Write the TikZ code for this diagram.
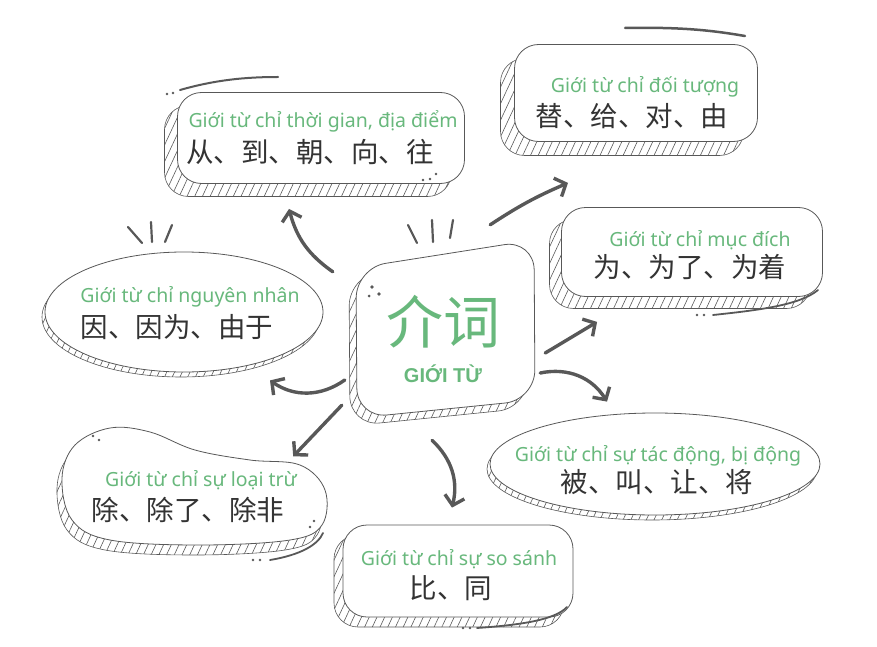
\documentclass[tikz,border=0pt]{standalone}
\usepackage{fontspec}
\setmainfont{Noto Sans}
\newfontfamily\zhfont{Noto Sans CJK SC}
\newfontfamily\headfont{Liberation Sans}
\usetikzlibrary{arrows.meta, shadows, patterns.meta, shapes.geometric}

\definecolor{leaf}{RGB}{104,184,124}
\definecolor{ink}{RGB}{88,88,88}

\tikzset{
  card/.style={draw=ink, line width=0.8pt, fill=white, rounded corners=24pt, inner sep=0pt},
  bubble/.style={ellipse, draw=ink, line width=0.8pt, fill=white, inner sep=0pt},
  hatched/.style 2 args={general shadow={draw=ink, line width=0.6pt,
      pattern={Lines[angle=65, distance=7pt, line width=0.6pt]}, pattern color=ink,
      shadow xshift=#1, shadow yshift=#2}},
  vi/.style={text=leaf, font=\fontsize{19.5}{22}\selectfont},
  zh/.style={text=black!80, font=\zhfont\fontsize{27.5}{31}\selectfont},
  arr/.style={draw=ink, line width=3.4pt, line cap=round,
      -{Straight Barb[length=9pt, width=20pt]}},
  tick/.style={draw=ink, line width=2.2pt, line cap=round},
  speck/.style={fill=ink}
}

\begin{document}
\begin{tikzpicture}[x=1pt,y=-1pt]
\useasboundingbox (0,0) rectangle (877,647);
% Centre card
\path[draw=ink, line width=0.6pt, rounded corners=30pt,
  pattern={Lines[angle=65, distance=7pt, line width=0.6pt]}, pattern color=ink,
  shift={(-7,8)}] (356,268) -- (534,240) -- (535,400) -- (357,418) -- cycle;
\draw[ink, line width=0.8pt, fill=white, rounded corners=30pt]
  (356,268) -- (534,240) -- (535,400) -- (357,418) -- cycle;
\node[minimum width=178pt, minimum height=160pt] (ctr) at (446,333) {};
\node[text=leaf, font=\zhfont\fontsize{57}{60}\selectfont] (ctrzh) at (443,322) {介词};
\node[text=leaf, font=\headfont\bfseries\fontsize{20}{23}\selectfont] (ctrvi) at (443,374) {GIỚI TỪ};
\fill[speck] (372,287) circle (1.8) (379,294) circle (1.8) (369,296) circle (1.5);
% Ticks over centre card
\draw[tick] (408,225) -- (417,243) (432,220) -- (433,242) (453,220) -- (450,238);

% Time and place
\node[card, hatched={-13pt}{-13pt}, minimum width=287pt, minimum height=91pt] (tp) at (321,138) {};
\node[vi] (tpvi) at (323,121) {Giới từ chỉ thời gian, địa điểm};
\node[zh] (tpzh) at (310,152) {从、到、朝、向、往};
\draw[ink, line width=2pt, line cap=round] (180,90) .. controls (215,80) and (245,77) .. (278,77);
\fill[speck] (167,94) circle (1.4) (173,93) circle (1.4);
\fill[speck] (423,180) circle (1.4) (430,179) circle (1.4) (436,174) circle (1.3);

% Object
\node[card, hatched={-14pt}{-14pt}, minimum width=243pt, minimum height=97pt] (obj) at (636,93) {};
\node[vi] (objvi) at (645,87) {Giới từ chỉ đối tượng};
\node[zh] (objzh) at (632,116) {替、给、对、由};
\draw[ink, line width=2.5pt, line cap=round] (625,28) .. controls (680,27) and (710,30) .. (745,36);

% Purpose
\node[card, hatched={-12pt}{-12pt}, minimum width=261pt, minimum height=89pt] (purp) at (692,252) {};
\node[vi] (purpvi) at (700,240) {Giới từ chỉ mục đích};
\node[zh] (purpzh) at (690,267) {为、为了、为着};
\draw[ink, line width=1.8pt, line cap=round] (713,315) .. controls (760,310) and (800,305) .. (818,290);
\fill[speck] (697,315) circle (1.4) (704,315) circle (1.4);

% Cause
\node[bubble, hatched={-3pt}{-5pt}, minimum width=278pt, minimum height=120pt] (cause) at (184,312) {};
\node[vi] (causevi) at (190,297) {Giới từ chỉ nguyên nhân};
\node[zh] (causezh) at (177,327) {因、因为、由于};
\draw[tick] (128,227) -- (142,243) (151,222) -- (152,242) (172,225) -- (165,242);

% Passive
\node[bubble, hatched={-3pt}{-5pt}, minimum width=330pt, minimum height=102pt] (pass) at (655,464) {};
\node[vi] (passvi) at (658,456) {Giới từ chỉ sự tác động, bị động};
\node[zh] (passzh) at (657,482) {被、叫、让、将};

% Exclusion
\path[draw=ink, line width=0.6pt, pattern={Lines[angle=65, distance=7pt, line width=0.6pt]},
  pattern color=ink, shift={(-5,10)}]
  plot[smooth cycle, tension=0.6] coordinates {(62,478) (75,445) (110,428) (150,432) (195,450)
  (250,460) (300,465) (325,490) (322,525) (290,540) (200,545) (110,540) (72,520)};
\draw[ink, line width=0.8pt, fill=white]
  plot[smooth cycle, tension=0.6] coordinates {(62,478) (75,445) (110,428) (150,432) (195,450)
  (250,460) (300,465) (325,490) (322,525) (290,540) (200,545) (110,540) (72,520)};
\node[minimum width=260pt, minimum height=115pt] (excl) at (195,487) {};
\node[vi] (exclvi) at (201,480) {Giới từ chỉ sự loại trừ};
\node[zh] (exclzh) at (188,510) {除、除了、除非};
\draw[ink, line width=1.8pt, line cap=round] (270,560) .. controls (300,555) and (318,545) .. (323,533);
\fill[speck] (93,436) circle (1.4) (99,440) circle (1.4) (253,560) circle (1.4) (260,560) circle (1.4);
\fill[speck] (310,527) circle (1.4) (314,521) circle (1.4);

% Comparison
\node[card, hatched={-9pt}{-10pt}, minimum width=230pt, minimum height=92pt] (cmp) at (458,571) {};
\node[vi] (cmpvi) at (459,559) {Giới từ chỉ sự so sánh};
\node[zh] (cmpzh) at (451,588) {比、同};
\draw[ink, line width=1.8pt, line cap=round] (477,628) .. controls (520,625) and (555,620) .. (567,607);
\fill[speck] (463,628) circle (1.4) (470,628) circle (1.4);

% Arrows from the centre
\draw[arr] ([shift={(-24,19)}]ctr.north west) to[bend left=20] ([shift={(-32,25)}]tp.south);
\draw[arr] ([shift={(-45,-28)}]ctr.north east) to[bend left=5] ([shift={(-68,41)}]obj.south);
\draw[arr] ([shift={(10,20)}]ctr.east) -- ([shift={(36,25)}]purp.south west);
\draw[arr] ([shift={(5,40)}]ctr.east) to[bend left=35] ([shift={(-48,-11)}]pass.north);
\draw[arr] ([shift={(-14,27)}]ctr.south) to[bend left=30] ([shift={(-6,-17)}]cmp.north);
\draw[arr] ([shift={(-15,-8)}]ctr.south west) -- ([shift={(-32,27)}]excl.north east);
\draw[arr] ([shift={(-12,47)}]ctr.west) to[bend left=35] ([shift={(86,8)}]cause.south);
\end{tikzpicture}
\end{document}
